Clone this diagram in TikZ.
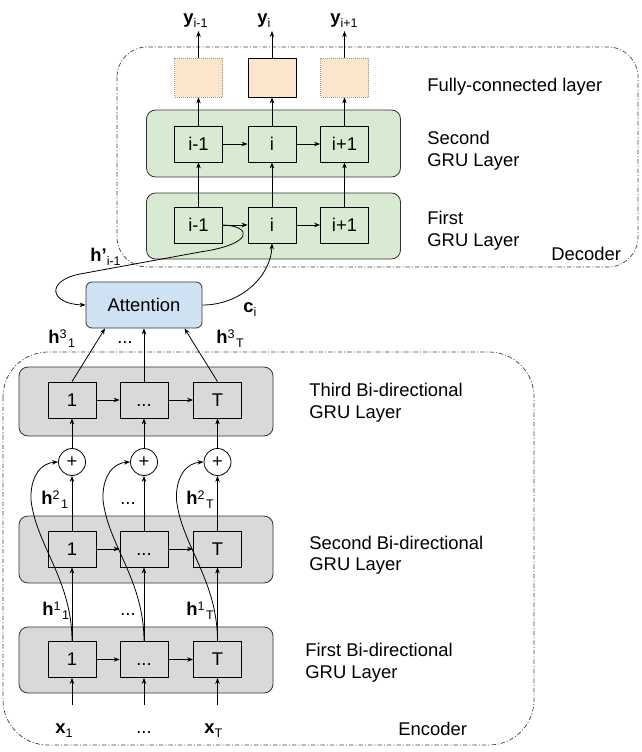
\documentclass[tikz,border=0pt]{standalone}
\usepackage{fontspec}
\setmainfont{Liberation Sans}
\usetikzlibrary{arrows.meta}
\definecolor{gfill}{HTML}{D9EAD3}
\definecolor{grayfill}{HTML}{D9D9D9}
\definecolor{bfill}{HTML}{CFE2F3}
\definecolor{ofill}{HTML}{FCE5CD}
\definecolor{dotc}{HTML}{A89584}
\definecolor{framec}{HTML}{404040}
\newcommand\mysup[1]{\raisebox{5pt}{\fontsize{12.5}{13}\selectfont #1}}
\newcommand\mysub[1]{\raisebox{-4pt}{\fontsize{12.5}{13}\selectfont #1}}
\newcommand\celldots{\vphantom{1}...}
\begin{document}
\begin{tikzpicture}[x=1pt,y=-1pt,
  font=\fontsize{18.4}{22}\selectfont,
  line width=0.8pt,
  >={Stealth[length=6pt,width=4.5pt]},
  cell/.style={draw=black, fill=#1, minimum width=48pt, minimum height=36pt, inner sep=0pt},
  cell/.default=white,
  layer/.style={draw=black!80, fill=#1, rounded corners=9pt, minimum width=254pt, inner sep=0pt},
  layer/.default=white,
  frame/.style={draw=framec, line width=0.7pt, dash pattern=on 4.5pt off 2pt on 1pt off 2pt},
  txt/.style={anchor=base west, inner sep=0pt},
  ctxt/.style={anchor=base, inner sep=0pt},
  plus/.style={circle, draw=black, fill=white, minimum size=27pt, inner sep=0pt},
  fcdot/.style={cell=ofill, draw=dotc, dash pattern=on 1pt off 1pt, minimum height=39pt},
]
\useasboundingbox (0,0) rectangle (642,752);

% frames
\draw[frame, rounded corners=30pt] (117,47) rectangle (638,267);
\draw[frame, rounded corners=45pt] (3,352) rectangle (534,745);

% ---------------- decoder ----------------
\node[layer=gfill, minimum height=67pt] (dl2) at (273.5,143.5) {};
\node[layer=gfill, minimum height=66pt] (dl1) at (273.5,226) {};
\node[cell=gfill] (d2a) at (198.5,144) {i-1};
\node[cell=gfill] (d2b) at (272,144) {i};
\node[cell=gfill] (d2c) at (344.5,144) {i+1};
\node[cell=gfill] (d1a) at (198.5,225) {i-1};
\node[cell=gfill] (d1b) at (272,225) {i};
\node[cell=gfill] (d1c) at (344.5,225) {i+1};
\node[fcdot] (fa) at (198.5,77.5) {};
\node[cell=ofill, minimum height=39pt] (fb) at (272,77.5) {};
\node[fcdot] (fc) at (344.5,77.5) {};

\coordinate (ya) at (198.5,31);
\coordinate (yb) at (272,31);
\coordinate (yc) at (344.5,31);
\draw[->] (fa.north) -- (ya);
\draw[->] (fb.north) -- (yb);
\draw[->] (fc.north) -- (yc);
\node[txt] at (183,24) {\textbf{y}\mysub{i-1}};
\node[txt] at (257,24) {\textbf{y}\mysub{i}};
\node[txt] at (330,24) {\textbf{y}\mysub{i+1}};

\foreach \c in {a,b,c} {
  \draw[->] (d1\c.north) -- (d2\c.south);
  \draw[->] (d2\c.north) -- (f\c.south);
}
\draw[->] (d2a.east) -- (d2b.west);
\draw[->] (d2b.east) -- (d2c.west);
\draw[->] (d1a.east) -- (d1b.west);
\draw[->] (d1b.east) -- (d1c.west);

\node[txt] at (427,91) {Fully-connected layer};
\node[txt] at (427,144.5) {Second};
\node[txt] at (427,166) {GRU Layer};
\node[txt] at (427,224) {First};
\node[txt] at (427,246) {GRU Layer};
\node[txt] at (551,260) {Decoder};

% ---------------- attention ----------------
\node[draw=black!80, fill=bfill, rounded corners=6pt, minimum width=116pt, minimum height=46pt, inner sep=0pt] (att) at (144,305) {Attention};
\draw[->] (att.east) .. controls (242,305) and (271,275) .. (d1b.south);
\draw[->] (d1a.east) .. controls (252,226) and (255,244) .. (200,252) -- (80,274) .. controls (45,281) and (50,304) .. (att.west);
\node[txt] at (90,261) {\textbf{h'}\mysub{i-1}};
\node[txt] at (243,312) {\textbf{c}\mysub{i}};

% ---------------- encoder ----------------
\node[layer=grayfill, minimum height=69pt] (el3) at (146,401.5) {};
\node[layer=grayfill, minimum height=67pt] (el2) at (146,549.5) {};
\node[layer=grayfill, minimum height=66pt] (el1) at (146,660) {};
\node[cell=grayfill] (e3a) at (72,400) {1};
\node[cell=grayfill] (e3b) at (144,400) {\celldots};
\node[cell=grayfill] (e3c) at (217.5,400) {T};
\node[cell=grayfill] (e2a) at (72,549) {1};
\node[cell=grayfill] (e2b) at (144,549) {\celldots};
\node[cell=grayfill] (e2c) at (217.5,549) {T};
\node[cell=grayfill] (e1a) at (72,659.5) {1};
\node[cell=grayfill] (e1b) at (144,659.5) {\celldots};
\node[cell=grayfill] (e1c) at (217.5,659.5) {T};
\node[plus] (pa) at (72,462) {+};
\node[plus] (pb) at (144,462) {+};
\node[plus] (pc) at (217.5,462) {+};

\foreach \r in {1,2,3} {
  \draw[->] (e\r a.east) -- (e\r b.west);
  \draw[->] (e\r b.east) -- (e\r c.west);
}
\foreach \c in {a,b,c} {
  \draw[->] (e1\c.north) -- (e2\c.south);
  \draw[->] (e2\c.north) -- (p\c.south);
  \draw[->] (p\c.north) -- (e3\c.south);
}
\draw[->] (e3a.north) -- (att.211);
\draw[->] (e3b.north) -- (att.south);
\draw[->] (e3c.north) -- (att.330);

% skip connections
\foreach \c/\X in {a/72,b/144,c/217.5} {
  \draw[->] (e1\c.north) .. controls (\X,580) and (\X-36,545) .. (\X-41,500)
     .. controls (\X-42,478) and (\X-32,463) .. (p\c.west);
}

% inputs
\coordinate (xa) at (72,705);
\coordinate (xb) at (144,705);
\coordinate (xc) at (217.5,705);
\draw[->] (xa) -- (e1a.south);
\draw[->] (xb) -- (e1b.south);
\draw[->] (xc) -- (e1c.south);
\node[txt] at (55,733) {\textbf{x}\mysub{1}};
\node[ctxt] at (144,733) {...};
\node[txt] at (204,733) {\textbf{x}\mysub{T}};

% hidden labels
\node[txt] at (48,343) {\textbf{h}\mysup{3}\hspace{1.5pt}\mysub{1}};
\node[ctxt] at (125,343) {...};
\node[txt] at (216,343) {\textbf{h}\mysup{3}\hspace{1.5pt}\mysub{T}};
\node[txt] at (41,504) {\textbf{h}\mysup{2}\hspace{1.5pt}\mysub{1}};
\node[ctxt] at (128,504) {...};
\node[txt] at (186,504) {\textbf{h}\mysup{2}\hspace{1.5pt}\mysub{T}};
\node[txt] at (42,615) {\textbf{h}\mysup{1}\hspace{1.5pt}\mysub{1}};
\node[ctxt] at (128,615) {...};
\node[txt] at (186,615) {\textbf{h}\mysup{1}\hspace{1.5pt}\mysub{T}};

% encoder layer texts
\node[txt] at (309,396) {Third Bi-directional};
\node[txt] at (309,418) {GRU Layer};
\node[txt] at (309,549) {Second Bi-directional};
\node[txt] at (309,570) {GRU Layer};
\node[txt] at (305,656) {First Bi-directional};
\node[txt] at (305,678) {GRU Layer};
\node[txt] at (398,735) {Encoder};
\end{tikzpicture}
\end{document}
